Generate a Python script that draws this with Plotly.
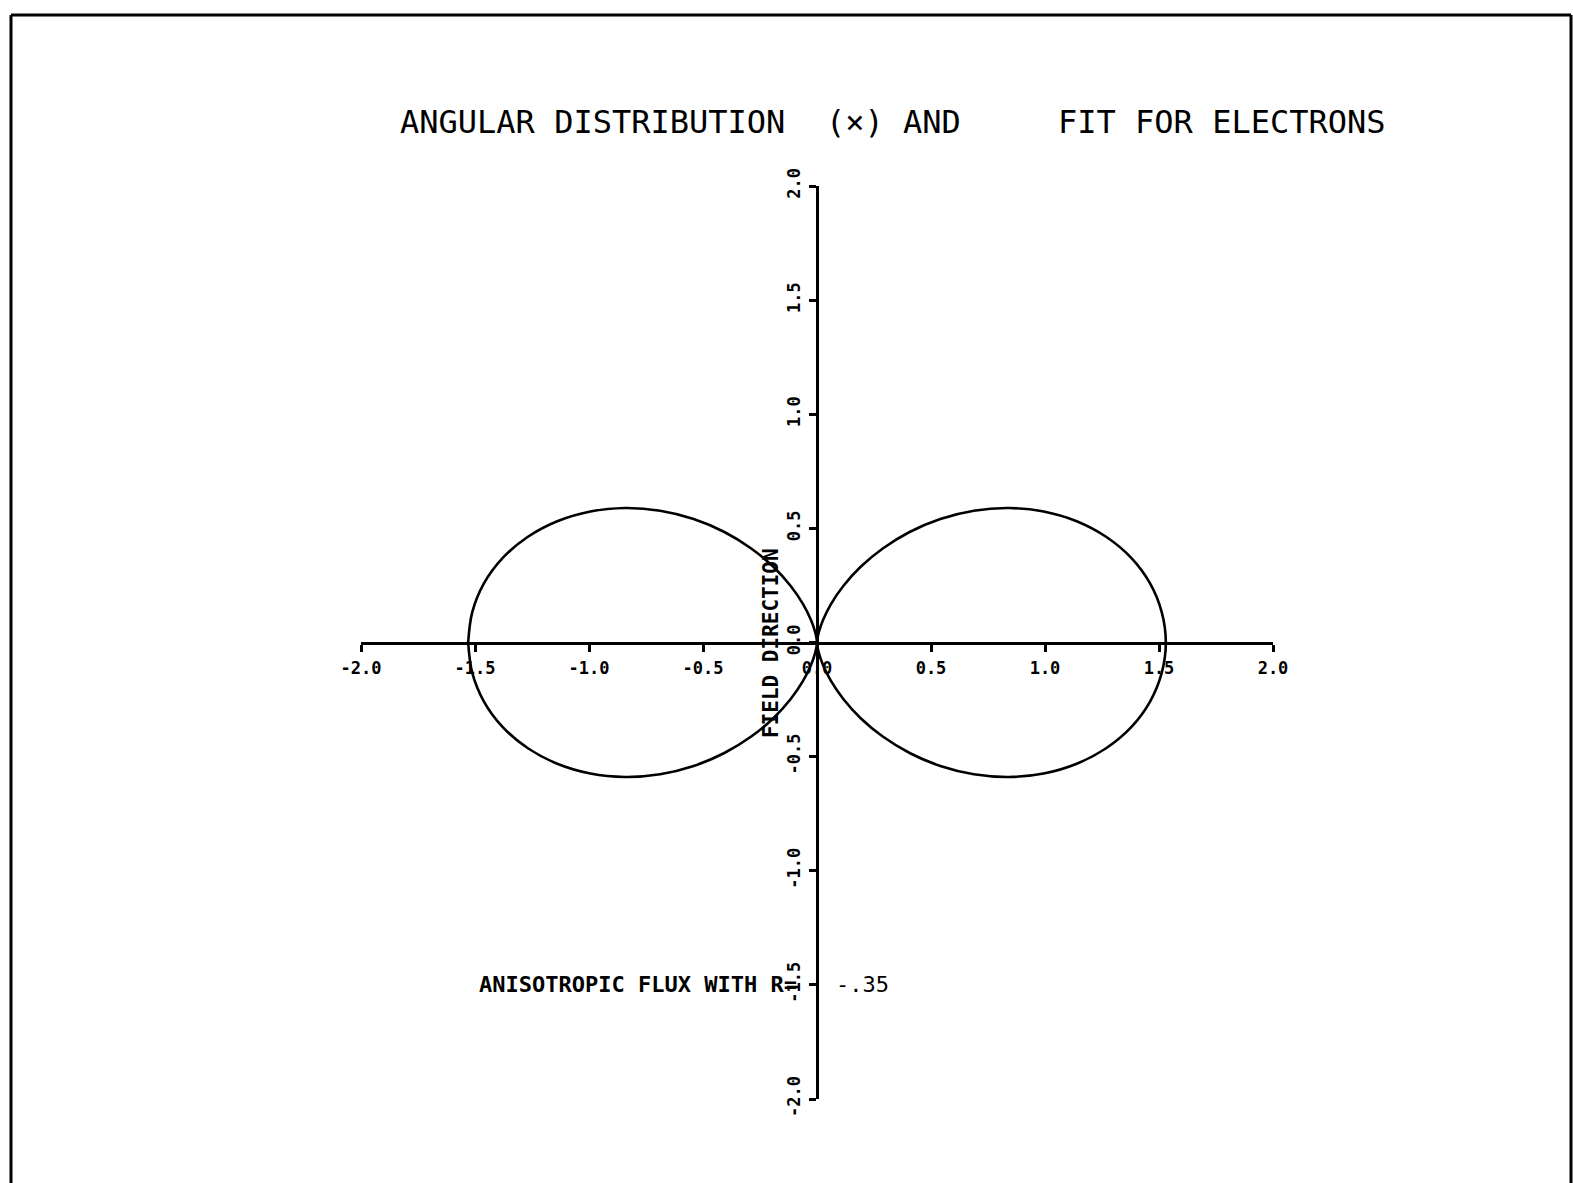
import numpy as np
import plotly.graph_objects as go

# Fitted angular distribution, one quadrant (pitch angle in degrees -> radius)
pitch_angle_deg = [0, 5, 10, 15, 20, 25, 30, 35, 40, 45,
                   50, 55, 60, 65, 70, 75, 80, 85, 90]
fit_radius = [1.530, 1.518, 1.484, 1.428, 1.351, 1.257, 1.148, 1.027, 0.898, 0.765,
              0.632, 0.503, 0.383, 0.273, 0.179, 0.102, 0.046, 0.012, 0.000]

tick_vals = [-2.0, -1.5, -1.0, -0.5, 0.0, 0.5, 1.0, 1.5, 2.0]
tick_text = ["-2.0", "-1.5", "-1.0", "-0.5", "0.0", "0.5", "1.0", "1.5", "2.0"]

title_parts = ["ANGULAR DISTRIBUTION", "(\u00d7) AND", "FIT FOR ELECTRONS"]
axis_label = "FIELD DIRECTION"
flux_label = "ANISOTROPIC FLUX WITH R="
r_value = "-.35"

# The distribution is symmetric about both axes: mirror the quadrant
a = np.array(pitch_angle_deg, dtype=float)
r = np.array(fit_radius, dtype=float)
theta = np.concatenate([a, 180 - a[::-1], 180 + a, 360 - a[::-1]])
rad = np.concatenate([r, r[::-1], r, r[::-1]])
x = rad * np.cos(np.radians(theta))
y = rad * np.sin(np.radians(theta))

W, H = 1573, 1183
ML, MR, MT, MB = 361, 300, 186, 84

fig = go.Figure()
fig.add_trace(go.Scatter(
    x=x, y=y, mode="lines",
    line=dict(color="black", width=2.6, shape="spline", smoothing=1.0),
    hoverinfo="skip", showlegend=False,
))

tick_font = dict(family="DejaVu Sans Mono", size=17, color="black", weight="bold")
common = dict(
    range=[-2, 2], tickvals=tick_vals, ticktext=tick_text,
    showgrid=False, zeroline=False, showline=True, linecolor="black", linewidth=3,
    ticks="outside", ticklen=7, tickwidth=2.5, tickcolor="black",
    tickfont=tick_font, anchor="free", position=0.5, fixedrange=True,
)
fig.update_xaxes(**common, side="bottom", ticklabelstandoff=2)
fig.update_yaxes(**common, side="left", tickangle=-90, ticklabelstandoff=2)

pw = W - ML - MR
ph = H - MT - MB


def px_x(px):
    return (px - ML) / pw


def px_y(py):
    return (H - MB - py) / ph


title_font = dict(family="DejaVu Sans Mono", size=32, color="black")
annots = [
    dict(text=title_parts[0], x=px_x(398), y=px_y(122), xanchor="left", font=title_font),
    dict(text=title_parts[1], x=px_x(824), y=px_y(122), xanchor="left", font=title_font),
    dict(text=title_parts[2], x=px_x(1056), y=px_y(122), xanchor="left", font=title_font),
    dict(text=axis_label, x=px_x(771), y=px_y(643), textangle=-90, xanchor="center",
         font=dict(family="DejaVu Sans Mono", size=21, color="black", weight="bold")),
    dict(text=flux_label, x=px_x(477), y=px_y(984), xanchor="left",
         font=dict(family="DejaVu Sans Mono", size=22, color="black", weight="bold")),
    dict(text=r_value, x=px_x(834), y=px_y(984), xanchor="left",
         font=dict(family="DejaVu Sans Mono", size=22, color="black")),
]
for an in annots:
    an.update(xref="paper", yref="paper", yanchor="middle", showarrow=False)
fig.update_layout(annotations=annots)

# Page frame drawn by the plotter (left, top and right edges)
frame = dict(type="line", xref="paper", yref="paper", line=dict(color="black", width=3))
fig.update_layout(shapes=[
    dict(frame, x0=px_x(11), x1=px_x(11), y0=px_y(15), y1=px_y(1190)),
    dict(frame, x0=px_x(11), x1=px_x(1571), y0=px_y(15), y1=px_y(15)),
    dict(frame, x0=px_x(1571), x1=px_x(1571), y0=px_y(15), y1=px_y(1190)),
])

fig.update_layout(
    width=W, height=H,
    margin=dict(l=ML, r=MR, t=MT, b=MB, autoexpand=False),
    paper_bgcolor="white", plot_bgcolor="white",
    showlegend=False,
)

fig.write_html("out.html", config={"displayModeBar": False})
